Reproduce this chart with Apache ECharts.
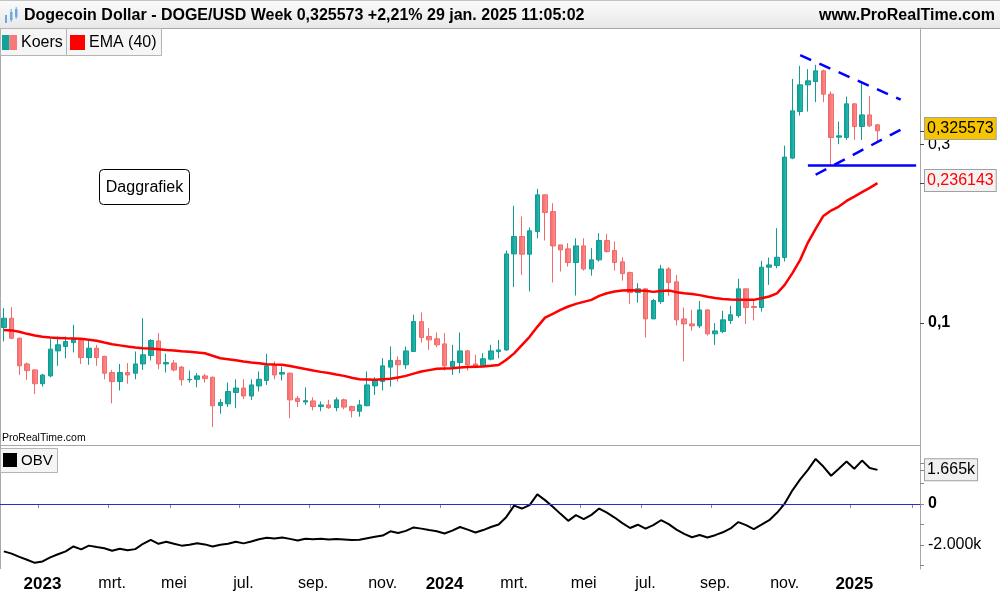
<!DOCTYPE html>
<html><head><meta charset="utf-8">
<script src="https://cdn.jsdelivr.net/npm/echarts@6/dist/echarts.min.js"></script>
<style>html,body{margin:0;padding:0;background:#fff}#c{width:1000px;height:600px}</style>
</head><body><div id="c"></div>
<script>
// ---- categories: weekly bars (Monday dates) ----
const firstWeek = '2022-11-28';
const weekCount = 119; // incl. empty weeks on the right of the last bar
const monthNames = {3:'mrt.',5:'mei',7:'jul.',9:'sep.',11:'nov.'};

// ---- weekly OHLC (DOGE/USD) ----
const opens = [0.0973,0.1030,0.0911,0.0778,0.0750,0.0689,0.0723,0.0843,0.0866,0.0887,
 0.0902,0.0809,0.0857,0.0815,0.0738,0.0698,0.0738,0.0735,0.0778,0.0820,
 0.0896,0.0778,0.0782,0.0763,0.0706,0.0708,0.0723,0.0717,0.0603,0.0609,
 0.0653,0.0671,0.0639,0.0680,0.0703,0.0769,0.0731,0.0735,0.0630,0.0616,
 0.0620,0.0599,0.0605,0.0595,0.0624,0.0599,0.0582,0.0602,0.0680,0.0698,
 0.0763,0.0795,0.0774,0.0840,0.1009,0.0921,0.0908,0.0880,0.0763,0.0785,
 0.0843,0.0778,0.0769,0.0801,0.0840,0.0848,0.1529,0.1701,0.1526,0.1754,
 0.2197,0.1983,0.1616,0.1577,0.1450,0.1606,0.1394,0.1474,0.1660,0.1561,
 0.1456,0.1363,0.1206,0.1234,0.1026,0.1141,0.1394,0.1288,0.1026,0.0995,
 0.0983,0.1084,0.0936,0.0949,0.1016,0.1047,0.1234,0.1107,0.1100,0.1409,
 0.1423,0.1495,0.2753,0.3664,0.4317,0.4406,0.4704,0.4077,0.3131,0.3124,
 0.3842,0.3342,0.3590,0.3377];
const highs = [0.1096,0.1102,0.0915,0.0785,0.0753,0.0732,0.0906,0.0921,0.0921,0.0989,
 0.0911,0.0906,0.0875,0.0818,0.0750,0.0778,0.0782,0.0840,0.1030,0.0906,
 0.0940,0.0828,0.0798,0.0769,0.0747,0.0735,0.0732,0.0720,0.0627,0.0694,
 0.0708,0.0708,0.0708,0.0743,0.0828,0.0790,0.0766,0.0738,0.0639,0.0674,
 0.0634,0.0618,0.0624,0.0634,0.0629,0.0602,0.0624,0.0743,0.0717,0.0806,
 0.0866,0.0815,0.0866,0.1052,0.1067,0.0969,0.0944,0.0940,0.0875,0.0944,
 0.0848,0.0823,0.0831,0.0875,0.0902,0.1561,0.2054,0.1923,0.1798,0.2279,
 0.2200,0.2088,0.1616,0.1633,0.1683,0.1683,0.1584,0.1737,0.1729,0.1650,
 0.1498,0.1372,0.1277,0.1234,0.1160,0.1429,0.1409,0.1344,0.1100,0.1084,
 0.1146,0.1089,0.1000,0.1078,0.1111,0.1312,0.1234,0.1148,0.1465,0.1495,
 0.1791,0.2973,0.4478,0.4852,0.4753,0.4882,0.4740,0.4143,0.3446,0.4018,
 0.3859,0.4361,0.4035,0.3398];
const lows = [0.0893,0.0906,0.0727,0.0706,0.0647,0.0677,0.0717,0.0769,0.0806,0.0835,
 0.0778,0.0774,0.0769,0.0708,0.0611,0.0661,0.0689,0.0708,0.0750,0.0795,
 0.0753,0.0738,0.0743,0.0681,0.0694,0.0674,0.0694,0.0528,0.0573,0.0597,
 0.0593,0.0627,0.0624,0.0657,0.0684,0.0708,0.0703,0.0558,0.0597,0.0605,
 0.0585,0.0582,0.0590,0.0582,0.0589,0.0560,0.0563,0.0600,0.0643,0.0661,
 0.0677,0.0698,0.0755,0.0840,0.0887,0.0848,0.0862,0.0747,0.0727,0.0735,
 0.0747,0.0758,0.0766,0.0795,0.0806,0.0843,0.1247,0.1344,0.1214,0.1683,
 0.1660,0.1283,0.1372,0.1414,0.1184,0.1380,0.1338,0.1459,0.1542,0.1380,
 0.1298,0.1125,0.1134,0.0915,0.1026,0.1125,0.1182,0.0985,0.0790,0.0955,
 0.0969,0.0926,0.0875,0.0940,0.0995,0.1034,0.0995,0.1016,0.1073,0.1264,
 0.1400,0.1459,0.2735,0.3576,0.3664,0.3882,0.3882,0.2642,0.2999,0.3080,
 0.3080,0.3080,0.3330,0.3048];
const closes = [0.1030,0.0911,0.0769,0.0747,0.0689,0.0727,0.0852,0.0875,0.0893,0.0906,
 0.0809,0.0857,0.0809,0.0735,0.0698,0.0738,0.0727,0.0778,0.0823,0.0898,
 0.0778,0.0785,0.0750,0.0706,0.0708,0.0723,0.0711,0.0602,0.0614,0.0657,
 0.0671,0.0639,0.0684,0.0708,0.0769,0.0727,0.0738,0.0624,0.0618,0.0621,
 0.0599,0.0605,0.0595,0.0624,0.0597,0.0584,0.0605,0.0684,0.0703,0.0769,
 0.0795,0.0774,0.0843,0.1009,0.0915,0.0902,0.0875,0.0769,0.0790,0.0843,
 0.0774,0.0766,0.0803,0.0843,0.0848,0.1529,0.1701,0.1526,0.1762,0.2197,
 0.1971,0.1606,0.1567,0.1450,0.1606,0.1394,0.1474,0.1660,0.1551,0.1450,
 0.1355,0.1206,0.1234,0.1026,0.1148,0.1394,0.1283,0.1020,0.0995,0.0983,
 0.1084,0.0936,0.0953,0.1020,0.1052,0.1234,0.1100,0.1100,0.1409,0.1429,
 0.1498,0.2770,0.3680,0.4317,0.4425,0.4704,0.4077,0.3124,0.3157,0.3842,
 0.3342,0.3590,0.3357,0.325573];

// ---- EMA(40) as drawn ----
const ema40 = [0.0959,0.0956,0.0948,0.0936,0.0926,0.0920,0.0915,0.0913,0.0911,0.0910,
 0.0908,0.0903,0.0897,0.0887,0.0878,0.0872,0.0866,0.0861,0.0857,0.0855,
 0.0852,0.0848,0.0845,0.0841,0.0838,0.0835,0.0831,0.0818,0.0806,0.0801,
 0.0796,0.0790,0.0785,0.0781,0.0777,0.0775,0.0774,0.0768,0.0761,0.0754,
 0.0747,0.0741,0.0736,0.0729,0.0723,0.0715,0.0708,0.0707,0.0706,0.0708,
 0.0710,0.0716,0.0723,0.0733,0.0743,0.0749,0.0755,0.0757,0.0758,0.0761,
 0.0763,0.0765,0.0766,0.0769,0.0773,0.0798,0.0830,0.0873,0.0919,0.0977,
 0.1034,0.1058,0.1084,0.1107,0.1125,0.1139,0.1153,0.1182,0.1201,0.1214,
 0.1221,0.1224,0.1221,0.1219,0.1211,0.1217,0.1221,0.1209,0.1201,0.1196,
 0.1187,0.1175,0.1167,0.1160,0.1155,0.1153,0.1153,0.1153,0.1165,0.1177,
 0.1200,0.1264,0.1359,0.1474,0.1639,0.1784,0.1930,0.1995,0.2045,0.2117,
 0.2174,0.2234,0.2294,0.236143];

// ---- OBV (in thousands of k) ----
const obv = [-2.31,-2.42,-2.58,-2.72,-2.87,-2.80,-2.60,-2.45,-2.31,-2.07,
 -2.21,-2.03,-2.10,-2.16,-2.28,-2.18,-2.26,-2.20,-1.94,-1.75,
 -1.94,-1.84,-1.94,-2.03,-1.99,-1.91,-1.97,-2.07,-1.99,-1.94,
 -1.84,-1.92,-1.83,-1.72,-1.65,-1.68,-1.63,-1.70,-1.78,-1.69,
 -1.72,-1.70,-1.73,-1.71,-1.73,-1.76,-1.74,-1.67,-1.60,-1.54,
 -1.33,-1.41,-1.31,-1.14,-1.20,-1.27,-1.33,-1.44,-1.30,-1.12,
 -1.25,-1.39,-1.27,-1.12,-1.00,-0.63,-0.08,-0.22,-0.05,0.47,
 0.19,-0.13,-0.48,-0.82,-0.54,-0.74,-0.53,-0.22,-0.42,-0.66,
 -0.93,-1.17,-1.01,-1.20,-1.03,-0.79,-0.98,-1.25,-1.46,-1.62,
 -1.51,-1.63,-1.52,-1.38,-1.19,-0.88,-1.03,-1.22,-1.01,-0.79,
 -0.43,0.02,0.67,1.20,1.67,2.20,1.83,1.38,1.72,2.07,
 1.72,2.12,1.76,1.665];

// ---- axis ranges / ticks / annotations ----
const priceMin = 0.0473, priceMax = 0.612;
const priceTickLabels = [0.1, 0.3];
const obvMin = -3.17, obvMax = 2.88;
const obvTicks = [-3, -2, -1, 0, 1, 2];
const obvTickLabels = [0, -2];
const lastPrice = 0.325573, lastEma = 0.236143, lastObv = 1.665;
const supportLevel = 0.263, supportFrom = 104, supportTo = 118;
const upperTrend = [[103, 0.518], [116, 0.394]];
const lowerTrend = [[105, 0.2486], [116, 0.3278]];

// build categories
const categories = [];
(function(){
  const p = firstWeek.split('-').map(Number);
  const t0 = Date.UTC(p[0], p[1]-1, p[2]);
  for (let i = 0; i < weekCount; i++) categories.push(new Date(t0 + i*7*86400000).toISOString().slice(0,10));
})();
function isTickWeek(idx, val){
  const m = +val.slice(5,7), d = +val.slice(8,10);
  return d <= 7 && (m % 2 === 1);
}
function isLabelWeek(idx, val){
  return idx < closes.length && isTickWeek(idx, val);
}
const candleData = opens.map((o,i) => [o, closes[i], lows[i], highs[i]]);
const nl = v => String(v).replace('.', ',');
const FONT = '"Liberation Sans", Arial, sans-serif';

const upFill = new echarts.graphic.LinearGradient(0,0,1,0,[{offset:0,color:'#0b978e'},{offset:1,color:'#2fc2b8'}]);
const downFill = new echarts.graphic.LinearGradient(0,0,1,0,[{offset:0,color:'#f26464'},{offset:1,color:'#fd9a9a'}]);

const chart = echarts.init(document.getElementById('c'), null, {renderer:'canvas', width:1000, height:600});
const option = {
  animation: false,
  backgroundColor: '#ffffff',
  textStyle: {fontFamily: FONT},
  grid: [
    {left:0, top:28, width:920, height:417, outerBoundsMode:'none', containLabel:false},
    {left:0, top:445, width:920, height:124, outerBoundsMode:'none', containLabel:false}
  ],
  xAxis: [
    {type:'category', gridIndex:0, data:categories, boundaryGap:true, show:false},
    {type:'category', gridIndex:1, data:categories, boundaryGap:true,
     axisLine:{show:true, lineStyle:{color:'#a8a8a8', width:1}},
     axisTick:{show:true, interval:isTickWeek, length:4, lineStyle:{color:'#8a8a8a'}},
     axisLabel:{interval:isLabelWeek, margin:7, color:'#000', fontSize:16, fontFamily:FONT,
       formatter: v => { const m = +v.slice(5,7); return m === 1 ? '{y|' + v.slice(0,4) + '}' : monthNames[m]; },
       rich:{y:{fontWeight:'bold', fontSize:17, color:'#000', fontFamily:FONT}}},
     splitLine:{show:false}}
  ],
  yAxis: [
    {type:'log', logBase:10, gridIndex:0, min:priceMin, max:priceMax, show:false},
    {type:'value', gridIndex:0, position:'right', min:Math.log10(priceMin), max:Math.log10(priceMax),
     axisLine:{show:true, lineStyle:{color:'#a8a8a8'}},
     axisTick:{show:true, length:4, customValues:[...priceTickLabels, lastPrice, lastEma].map(Math.log10), lineStyle:{color:'#444'}},
     axisLabel:{show:true, margin:8, color:'#000', fontSize:16, fontFamily:FONT,
       customValues: priceTickLabels.map(Math.log10),
       formatter: v => { const p = Math.round(Math.pow(10, v)*1000)/1000; return p === 0.1 ? '{b|' + nl(p) + '}' : nl(p); },
       rich:{b:{fontWeight:'bold', fontSize:16, color:'#000', fontFamily:FONT}}},
     splitLine:{show:false}},
    {type:'value', gridIndex:1, position:'right', min:obvMin, max:obvMax,
     axisLine:{show:true, lineStyle:{color:'#a8a8a8'}},
     axisTick:{show:true, length:4, customValues:[...obvTicks, lastObv], lineStyle:{color:'#888'}},
     axisLabel:{show:true, margin:8, color:'#000', fontSize:16, fontFamily:FONT,
       customValues: obvTickLabels,
       formatter: v => v === 0 ? '{b|0}' : v.toFixed(3) + 'k',
       rich:{b:{fontWeight:'bold', fontSize:16, color:'#000', fontFamily:FONT}}},
     splitLine:{show:false}}
  ],
  series: [
    {type:'candlestick', name:'Koers', xAxisIndex:0, yAxisIndex:0, data:candleData, barWidth:5,
     itemStyle:{color:upFill, color0:downFill, borderColor:'#0f9c93', borderColor0:'#f26a6a', borderWidth:1},
     markLine:{silent:true, symbol:'none', animation:false,
       data:[
         {yAxis:lastPrice, lineStyle:{color:'rgba(0,0,0,0)', width:0.01},
          label:{show:true, position:'end', distance:5, formatter:nl(lastPrice), color:'#000', fontSize:16, fontFamily:FONT,
                 backgroundColor:'#f6c400', borderColor:'#a0a0a0', borderWidth:1, padding:[3,2,2,2]}},
         {yAxis:lastEma, lineStyle:{color:'rgba(0,0,0,0)', width:0.01},
          label:{show:true, position:'end', distance:5, formatter:nl(lastEma), color:'#ff0000', fontSize:16, fontFamily:FONT,
                 backgroundColor:'#f3f3f3', borderColor:'#a0a0a0', borderWidth:1, padding:[3,2,2,2]}},
         [{coord:[supportFrom, supportLevel], lineStyle:{color:'#0000ff', width:2.5, type:'solid'}, label:{show:false}},
          {coord:[supportTo, supportLevel]}],
         [{coord:upperTrend[0], lineStyle:{color:'#0000ff', width:2.5, type:[12,9]}, label:{show:false}},
          {coord:upperTrend[1]}],
         [{coord:lowerTrend[0], lineStyle:{color:'#0000ff', width:2.5, type:[12,9]}, label:{show:false}},
          {coord:lowerTrend[1]}]
       ]}},
    {type:'line', name:'EMA (40)', xAxisIndex:0, yAxisIndex:0, data:ema40, symbol:'none', showSymbol:false,
     lineStyle:{color:'#ff0000', width:2.5}, itemStyle:{color:'#ff0000'}, z:3},
    {type:'line', name:'OBV', xAxisIndex:1, yAxisIndex:2, data:obv, symbol:'none', showSymbol:false,
     lineStyle:{color:'#000', width:2}, itemStyle:{color:'#000'}, z:3,
     markLine:{silent:true, symbol:'none', animation:false,
       data:[
         {yAxis:0, lineStyle:{color:'#2a2ad8', width:1, type:'solid'}, label:{show:false}},
         {yAxis:lastObv, lineStyle:{color:'rgba(0,0,0,0)', width:0.01},
          label:{show:true, position:'end', distance:5, formatter:lastObv.toFixed(3)+'k', color:'#000', fontSize:16, fontFamily:FONT,
                 backgroundColor:'#f0f0f0', borderColor:'#a0a0a0', borderWidth:1, padding:[3,2,2,2]}}
       ]}}
  ],
  graphic: [
    {type:'rect', shape:{x:0, y:0, width:1000, height:28}, silent:true,
     style:{fill:new echarts.graphic.LinearGradient(0,0,0,1,[{offset:0,color:'#fbfbfb'},{offset:1,color:'#e8e8e8'}])}},
    {type:'line', shape:{x1:0, y1:0.5, x2:1000, y2:0.5}, style:{stroke:'#c4c4c4', lineWidth:1}},
    {type:'line', shape:{x1:0, y1:28.5, x2:1000, y2:28.5}, style:{stroke:'#a8a8a8', lineWidth:1}},
    {type:'line', shape:{x1:0, y1:445.5, x2:920, y2:445.5}, style:{stroke:'#a8a8a8', lineWidth:1}},
    {type:'line', shape:{x1:0.5, y1:28, x2:0.5, y2:569}, style:{stroke:'#a8a8a8', lineWidth:1}},
    // header icon
    {type:'rect', shape:{x:5, y:15, width:2, height:8}, style:{fill:'#6aa9e6'}},
    {type:'rect', shape:{x:10, y:12, width:2.5, height:8}, style:{fill:'#6aa9e6'}},
    {type:'line', shape:{x1:11.2, y1:9, x2:11.2, y2:22}, style:{stroke:'#6aa9e6', lineWidth:1}},
    {type:'rect', shape:{x:15, y:9, width:2.5, height:8}, style:{fill:'#6aa9e6'}},
    {type:'line', shape:{x1:16.2, y1:7, x2:16.2, y2:19}, style:{stroke:'#6aa9e6', lineWidth:1}},
    {type:'text', style:{x:24, y:16, text:'Dogecoin Dollar - DOGE/USD Week 0,325573 +2,21% 29 jan. 2025 11:05:02',
      font:'bold 16px ' + FONT, fill:'#000', verticalAlign:'middle', align:'left'}},
    {type:'text', style:{x:995, y:16, text:'www.ProRealTime.com', font:'bold 16px ' + FONT, fill:'#000', verticalAlign:'middle', align:'right'}},
    // legend main
    {type:'rect', shape:{x:0.5, y:28.5, width:66, height:27}, style:{fill:'#f5f5f5', stroke:'#b4b4b4', lineWidth:1}},
    {type:'rect', shape:{x:2, y:35, width:7.5, height:15}, style:{fill:'#14a299'}},
    {type:'rect', shape:{x:9.5, y:35, width:7.5, height:15}, style:{fill:'#f77878'}},
    {type:'text', style:{x:21, y:43, text:'Koers', font:'16px ' + FONT, fill:'#000', verticalAlign:'middle'}},
    {type:'rect', shape:{x:66.5, y:28.5, width:95, height:27}, style:{fill:'#f5f5f5', stroke:'#b4b4b4', lineWidth:1}},
    {type:'rect', shape:{x:70, y:35, width:15, height:15}, style:{fill:'#ff0000'}},
    {type:'text', style:{x:89, y:43, text:'EMA (40)', font:'16px ' + FONT, fill:'#000', verticalAlign:'middle'}},
    // legend OBV
    {type:'rect', shape:{x:0.5, y:448.5, width:57, height:24}, style:{fill:'#f5f5f5', stroke:'#b4b4b4', lineWidth:1}},
    {type:'rect', shape:{x:3, y:453, width:14, height:14}, style:{fill:'#000'}},
    {type:'text', style:{x:21, y:461, text:'OBV', font:'15px ' + FONT, fill:'#000', verticalAlign:'middle'}},
    // watermark
    {type:'text', style:{x:2, y:438, text:'ProRealTime.com', font:'10.5px ' + FONT, fill:'#000', verticalAlign:'middle'}},
    // Daggrafiek box
    {type:'rect', shape:{x:99.5, y:169.5, width:90, height:35, r:4}, style:{fill:'#fff', stroke:'#000', lineWidth:1}},
    {type:'text', style:{x:144.5, y:187.5, text:'Daggrafiek', font:'16px ' + FONT, fill:'#000', verticalAlign:'middle', align:'center'}}
  ]
};
chart.setOption(option);
</script>
</body></html>
